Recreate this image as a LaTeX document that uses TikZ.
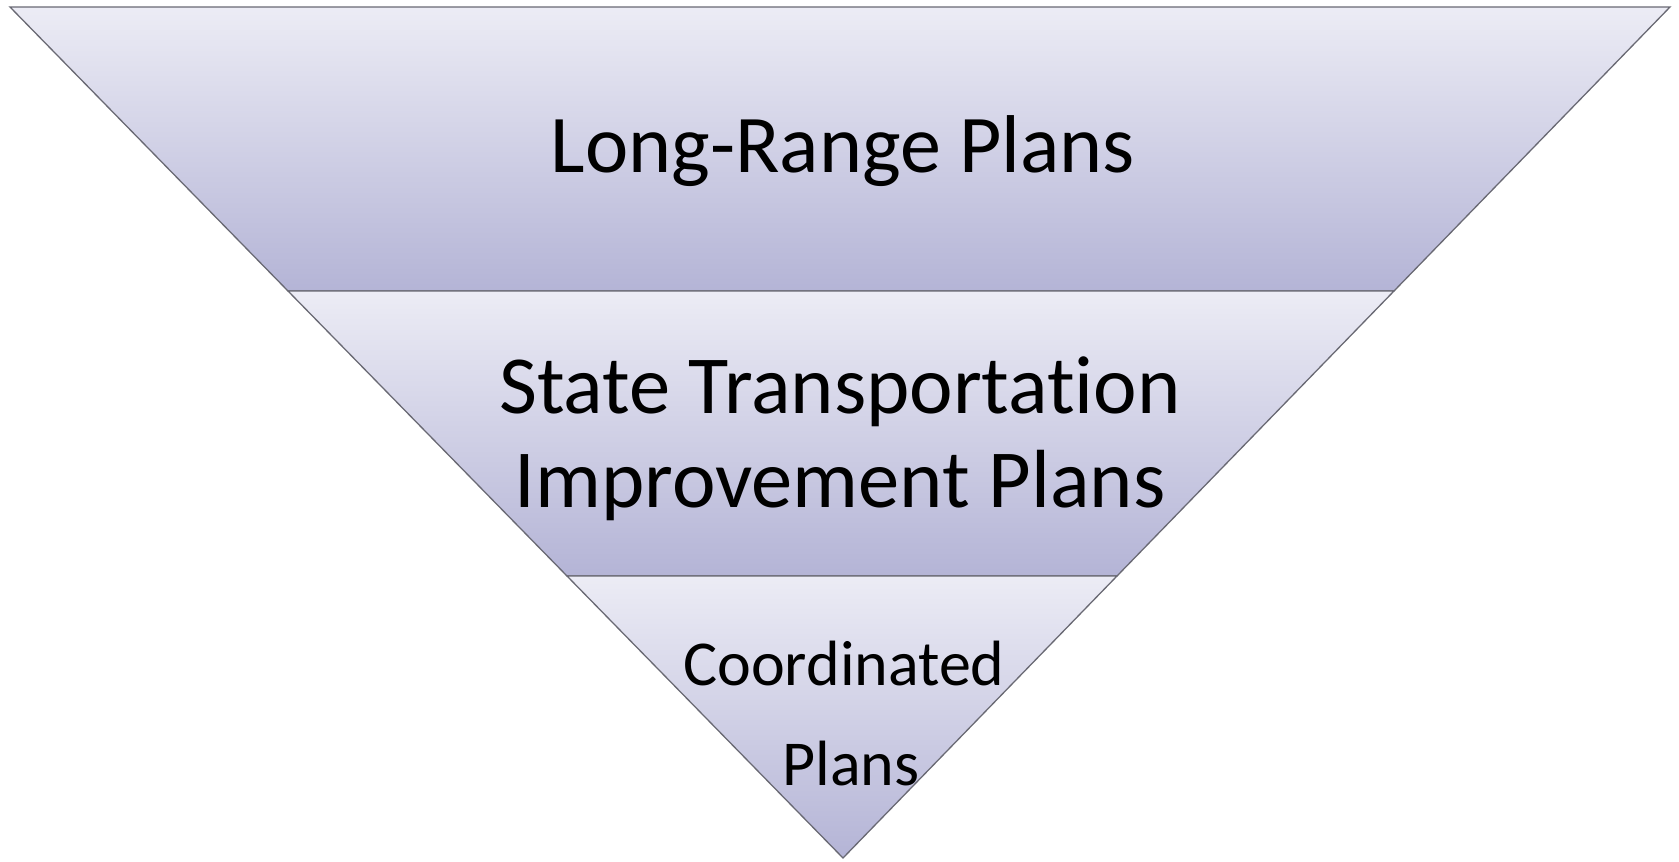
\documentclass[tikz,border=0pt]{standalone}
\usepackage{fontspec}
\setmainfont[Ligatures=NoCommon]{Carlito}
\definecolor{bandtop}{RGB}{236,236,245}
\definecolor{bandbot}{RGB}{180,180,214}
\definecolor{edgegray}{RGB}{105,105,115}
\begin{document}
\begin{tikzpicture}[x=1pt,y=-1pt,
  band/.style={top color=bandtop,bottom color=bandbot,draw=edgegray,line width=1.3pt,line join=miter},
  lbl/.style={anchor=base,inner sep=0pt,text=black},
  bigtext/.style={font=\fontsize{82}{98}\selectfont},
  midtext/.style={font=\fontsize{82.5}{99}\selectfont},
  smalltext/.style={font=\fontsize{64}{77}\selectfont}]
\useasboundingbox (0,0) rectangle (1679,862);
\coordinate (a1) at (10,7);
\coordinate (a2) at (1670,7);
\coordinate (b1) at (288,291);
\coordinate (b2) at (1394,291);
\coordinate (c1) at (567,576);
\coordinate (c2) at (1117,576);
\coordinate (apex) at (843,858);
\shade[band] (a1) -- (a2) -- (b2) -- (b1) -- cycle;
\shade[band] (b1) -- (b2) -- (c2) -- (c1) -- cycle;
\shade[band] (c1) -- (c2) -- (apex) -- cycle;
\node[lbl,bigtext] (lrp) at (843,172) {Long-Range Plans};
\node[lbl,midtext] (stip1) at (840,413) {State Transportation};
\node[lbl,midtext] (stip2) at (840,507) {Improvement Plans};
\node[lbl,smalltext] (cp1) at (844,685) {Coordinated};
\node[lbl,smalltext] (cp2) at (851,785) {Plans};
\end{tikzpicture}
\end{document}
